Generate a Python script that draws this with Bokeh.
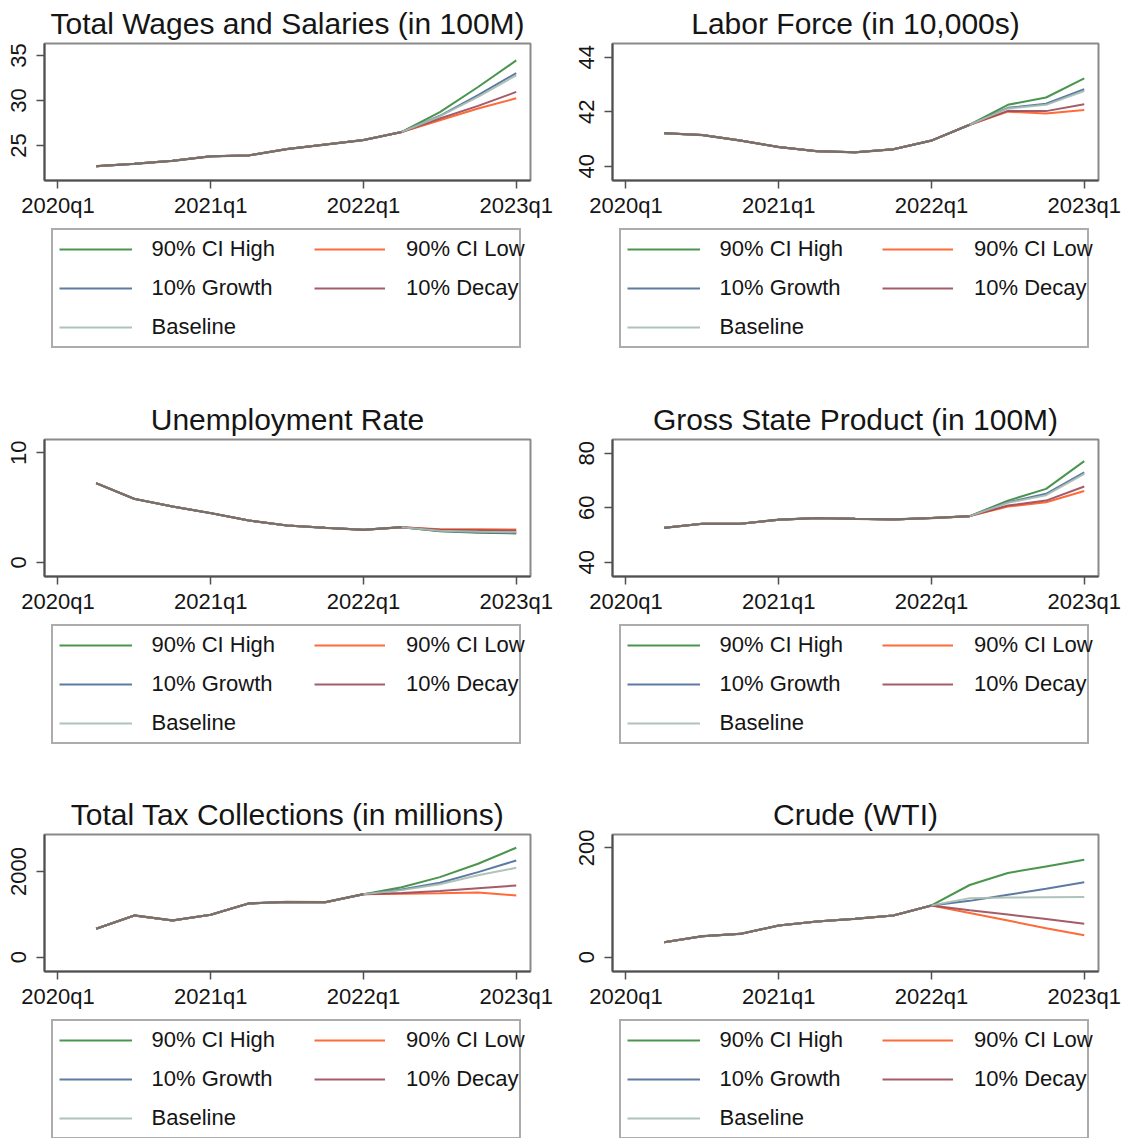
from bokeh.plotting import figure
from bokeh.models import Range1d, FixedTicker, Legend, LegendItem
from bokeh.layouts import row, column
from bokeh.embed import file_html
from bokeh.resources import INLINE

# ---------------- data ----------------
quarters = ["2020q2", "2020q3", "2020q4", "2021q1", "2021q2", "2021q3",
            "2021q4", "2022q1", "2022q2", "2022q3", "2022q4", "2023q1"]
x_tick_labels = ["2020q1", "2021q1", "2022q1", "2023q1"]
legend_labels = ["90% CI High", "90% CI Low", "10% Growth", "10% Decay", "Baseline"]

# Total Wages and Salaries (in 100M)
wages_high   = [22.7, 22.96, 23.3, 23.8, 23.9, 24.6, 25.1, 25.6, 26.5, 28.7, 31.5, 34.45]
wages_low    = [22.7, 22.96, 23.3, 23.8, 23.9, 24.6, 25.1, 25.6, 26.5, 27.8, 29.1, 30.25]
wages_growth = [22.7, 22.96, 23.3, 23.8, 23.9, 24.6, 25.1, 25.6, 26.5, 28.3, 30.6, 33.05]
wages_decay  = [22.7, 22.96, 23.3, 23.8, 23.9, 24.6, 25.1, 25.6, 26.5, 28.0, 29.4, 30.95]
wages_base   = [22.7, 22.96, 23.3, 23.8, 23.9, 24.6, 25.1, 25.6, 26.5, 28.25, 30.4, 32.8]
wages_yticks = [25, 30, 35]

# Labor Force (in 10,000s)
labor_high   = [41.21, 41.14, 40.94, 40.70, 40.55, 40.51, 40.62, 40.94, 41.52, 42.25, 42.52, 43.22]
labor_low    = [41.21, 41.14, 40.94, 40.70, 40.55, 40.51, 40.62, 40.94, 41.52, 42.00, 41.93, 42.06]
labor_growth = [41.21, 41.14, 40.94, 40.70, 40.55, 40.51, 40.62, 40.94, 41.52, 42.14, 42.29, 42.82]
labor_decay  = [41.21, 41.14, 40.94, 40.70, 40.55, 40.51, 40.62, 40.94, 41.52, 42.03, 42.02, 42.27]
labor_base   = [41.21, 41.14, 40.94, 40.70, 40.55, 40.51, 40.62, 40.94, 41.52, 42.12, 42.25, 42.76]
labor_yticks = [40, 42, 44]

# Unemployment Rate
unemp_high   = [7.23, 5.8, 5.1, 4.5, 3.83, 3.37, 3.16, 2.98, 3.22, 2.85, 2.72, 2.65]
unemp_low    = [7.23, 5.8, 5.1, 4.5, 3.83, 3.37, 3.16, 2.98, 3.22, 3.02, 3.02, 3.0]
unemp_growth = [7.23, 5.8, 5.1, 4.5, 3.83, 3.37, 3.16, 2.98, 3.22, 2.88, 2.76, 2.70]
unemp_decay  = [7.23, 5.8, 5.1, 4.5, 3.83, 3.37, 3.16, 2.98, 3.22, 2.98, 2.95, 2.92]
unemp_base   = [7.23, 5.8, 5.1, 4.5, 3.83, 3.37, 3.16, 2.98, 3.22, 2.90, 2.80, 2.75]
unemp_yticks = [0, 10]

# Gross State Product (in 100M)
gsp_high   = [52.6, 54.1, 54.1, 55.6, 56.2, 55.9, 55.7, 56.2, 56.9, 62.6, 66.9, 77.1]
gsp_low    = [52.6, 54.1, 54.1, 55.6, 56.2, 55.9, 55.7, 56.2, 56.9, 60.4, 62.0, 66.1]
gsp_growth = [52.6, 54.1, 54.1, 55.6, 56.2, 55.9, 55.7, 56.2, 56.9, 62.0, 65.1, 73.0]
gsp_decay  = [52.6, 54.1, 54.1, 55.6, 56.2, 55.9, 55.7, 56.2, 56.9, 60.8, 62.6, 67.8]
gsp_base   = [52.6, 54.1, 54.1, 55.6, 56.2, 55.9, 55.7, 56.2, 56.9, 61.8, 64.6, 72.4]
gsp_yticks = [40, 60, 80]

# Total Tax Collections (in millions)
tax_high   = [663, 974, 857, 990, 1255, 1290, 1284, 1470, 1634, 1868, 2180, 2554]
tax_low    = [663, 974, 857, 990, 1255, 1290, 1284, 1470, 1482, 1494, 1510, 1440]
tax_growth = [663, 974, 857, 990, 1255, 1290, 1284, 1470, 1580, 1737, 1985, 2258]
tax_decay  = [663, 974, 857, 990, 1255, 1290, 1284, 1470, 1500, 1545, 1610, 1674]
tax_base   = [663, 974, 857, 990, 1255, 1290, 1284, 1470, 1565, 1700, 1910, 2085]
tax_yticks = [0, 2000]

# Crude (WTI)
wti_high   = [27.4, 38.4, 42.7, 58.0, 65.3, 70.2, 76.3, 94.6, 132, 154, 166, 178]
wti_low    = [27.4, 38.4, 42.7, 58.0, 65.3, 70.2, 76.3, 94.6, 81, 67, 53, 40]
wti_growth = [27.4, 38.4, 42.7, 58.0, 65.3, 70.2, 76.3, 94.6, 103, 114, 125, 137]
wti_decay  = [27.4, 38.4, 42.7, 58.0, 65.3, 70.2, 76.3, 94.6, 86, 78, 70, 61]
wti_base   = [27.4, 38.4, 42.7, 58.0, 65.3, 70.2, 76.3, 94.6, 108, 109, 109.5, 110]
wti_yticks = [0, 200]

panels = [
    ("Total Wages and Salaries (in 100M)",
     [wages_high, wages_low, wages_growth, wages_decay, wages_base], (21.11, 36.33), wages_yticks),
    ("Labor Force (in 10,000s)",
     [labor_high, labor_low, labor_growth, labor_decay, labor_base], (39.475, 44.50), labor_yticks),
    ("Unemployment Rate",
     [unemp_high, unemp_low, unemp_growth, unemp_decay, unemp_base], (-1.276, 11.21), unemp_yticks),
    ("Gross State Product (in 100M)",
     [gsp_high, gsp_low, gsp_growth, gsp_decay, gsp_base], (34.75, 85.03), gsp_yticks),
    ("Total Tax Collections (in millions)",
     [tax_high, tax_low, tax_growth, tax_decay, tax_base], (-334, 2863), tax_yticks),
    ("Crude (WTI)",
     [wti_high, wti_low, wti_growth, wti_decay, wti_base], (-26.1, 224.3), wti_yticks),
]

# ---------------- style / geometry ----------------
COLORS = ["#368a3a", "#ff5a24", "#4a6c98", "#9a4a58", "#a6bdb0"]
SHARED = "#7a6f69"   # overlapping lines blend into a brownish grey
FONT = "Liberation Sans"
TXT = "#151515"

col_w = [563, 563]
col_left = [44, 49]
col_right = [33, 28]
plot_h = 226
row_top = [43, 43, 42]
frame_h = 137
leg_h = [170, 170, 120]
leg_top = [5.7, 5.7, 4.7]


def qindex(q):
    y, n = q.split("q")
    return (int(y) - 2020) * 4 + int(n) - 1


xs = [qindex(q) for q in quarters]
tick_pos = [qindex(t) for t in x_tick_labels]


def shared_len(ys):
    n = 0
    for vals in zip(*ys):
        if all(v == vals[0] for v in vals):
            n += 1
        else:
            break
    return n


def make_panel(i, title, ys, yr, yticks):
    r, c = divmod(i, 2)
    p = figure(width=col_w[c], height=plot_h, output_backend="svg", toolbar_location=None,
               x_range=Range1d(-0.353, 12.373), y_range=Range1d(*yr),
               min_border_left=col_left[c], min_border_right=col_right[c],
               min_border_top=row_top[r], min_border_bottom=plot_h - row_top[r] - frame_h,
               title=title)
    p.title.align = "center"
    p.title.text_font = FONT
    p.title.text_font_size = "30px"
    p.title.text_font_style = "normal"
    p.title.text_color = TXT
    p.title.standoff = 7
    p.grid.visible = False
    p.outline_line_color = "#8a8a8a"
    p.outline_line_width = 2

    for k, yv in enumerate(ys):
        p.line(xs, yv, line_color=COLORS[k], line_width=2, line_alpha=0.9)
    n = shared_len(ys)
    p.line(xs[:n], ys[0][:n], line_color=SHARED, line_width=2.2)

    xa = p.xaxis[0]
    ya = p.yaxis[0]
    xa.ticker = FixedTicker(ticks=tick_pos)
    xa.major_label_overrides = {t: l for t, l in zip(tick_pos, x_tick_labels)}
    ya.ticker = FixedTicker(ticks=yticks)
    ya.major_label_orientation = "vertical"
    for ax in (xa, ya):
        ax.major_tick_out = 8
        ax.major_tick_in = 0
        ax.minor_tick_out = 0
        ax.minor_tick_in = 0
        ax.axis_line_color = "#505050"
        ax.axis_line_width = 2
        ax.major_tick_line_color = "#505050"
        ax.major_tick_line_width = 1.5
        ax.major_label_text_font = FONT
        ax.major_label_text_font_size = "22px"
        ax.major_label_text_color = TXT
    xa.major_label_standoff = 4
    ya.major_label_standoff = 10
    return p


def make_legend(i):
    r, c = divmod(i, 2)
    h = leg_h[r]
    lf = figure(width=col_w[c], height=h, output_backend="svg", toolbar_location=None,
                x_range=Range1d(0, 1), y_range=Range1d(0, 1),
                x_axis_location=None, y_axis_location=None,
                min_border_left=0, min_border_right=0, min_border_top=0, min_border_bottom=0)
    lf.grid.visible = False
    lf.outline_line_color = None
    # legend keys only: a single NaN point, so nothing is drawn in the area itself
    nan = float("nan")
    keys = [lf.line([nan], [nan], line_color=COLORS[k], line_width=2, line_alpha=0.9) for k in range(5)]
    common = dict(orientation="vertical", padding=6, spacing=13, margin=0,
                  glyph_height=26, label_height=26,
                  label_text_font=FONT, label_text_font_size="22px", label_text_color=TXT)
    top = leg_top[r]
    h1 = 2 * 6 + 3 * 26 + 2 * 13
    h2 = 2 * 6 + 2 * 26 + 13
    leg1 = Legend(items=[LegendItem(label=legend_labels[k], renderers=[keys[k]]) for k in (0, 2, 4)],
                  location=(50.5 + 5 * c, h - top - h1), glyph_width=73, label_standoff=20,
                  label_width=361, border_line_color="#5a5a5a", border_line_width=2,
                  background_fill_color="white", background_fill_alpha=1.0, **common)
    leg2 = Legend(items=[LegendItem(label=legend_labels[k], renderers=[keys[k]]) for k in (1, 3)],
                  location=(308 + 5 * c, h - top - h2 + 2), glyph_width=71, label_standoff=21,
                  border_line_alpha=0.0, background_fill_alpha=0.0, **common)
    lf.add_layout(leg1, "center")
    lf.add_layout(leg2, "center")
    return lf


plots = [make_panel(i, *spec) for i, spec in enumerate(panels)]
legends = [make_legend(i) for i in range(6)]
layout = column(row(plots[0], plots[1]), row(legends[0], legends[1]),
                row(plots[2], plots[3]), row(legends[2], legends[3]),
                row(plots[4], plots[5]), row(legends[4], legends[5]))

open("out.html", "w").write(file_html(layout, INLINE, title="Forecast scenarios"))
